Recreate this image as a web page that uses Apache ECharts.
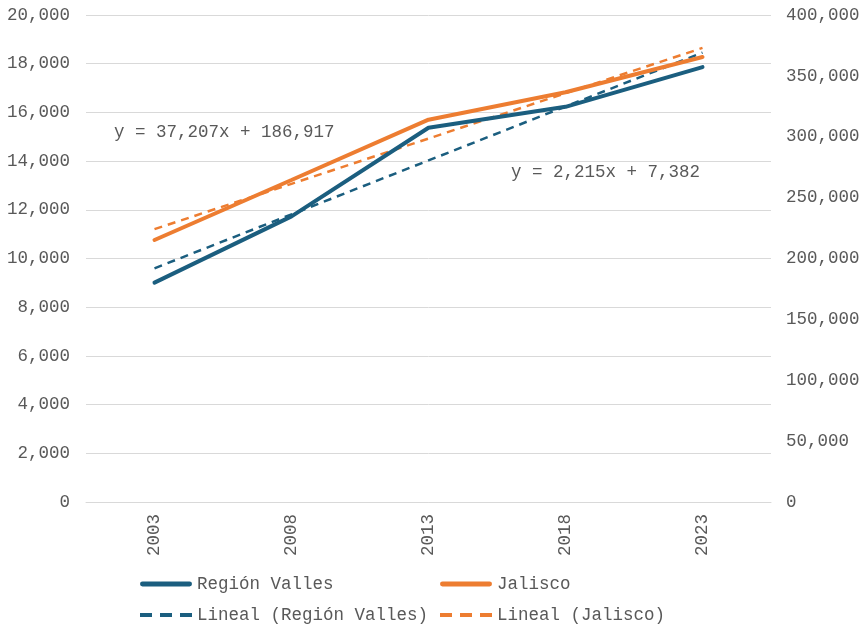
<!DOCTYPE html>
<html><head><meta charset="utf-8">
<script src="https://cdn.jsdelivr.net/npm/echarts@6/dist/echarts.min.js"></script>
<style>html,body{margin:0;padding:0;background:#fff}#c{width:864px;height:629px}</style>
</head><body><div id="c"></div>
<script>
const categories = ['2003', '2008', '2013', '2018', '2023'];
const vallesValues = [9010, 11730, 15370, 16230, 17860];
const jaliscoValues = [215200, 264500, 314000, 336500, 365500];
// Trend line coefficients as shown in chart equations: [slope, intercept]
const vallesTrendCoef = [2215, 7382];
const jaliscoTrendCoef = [37207, 186917];
const vallesEquation = 'y = 2,215x + 7,382';
const jaliscoEquation = 'y = 37,207x + 186,917';

const trend = (c) => categories.map((_, i) => c[0] * (i + 1) + c[1]);
const FONT = 'Liberation Mono';
const FS = 17.5;
const TXT = '#595959';
const BLUE = '#1B5E7F';
const ORANGE = '#ED7D31';
const fmt = v => v.toLocaleString('en-US');
const SOLID_ICON = 'path://M2,0 H50 A2.5,2.5 0 0 1 50,5 H2 A2.5,2.5 0 0 1 2,0 Z';
const DASH_ICON = 'path://M0,0 h12 v4 h-12 z M20,0 h12 v4 h-12 z M40,0 h12 v4 h-12 z';

const legendText = { fontFamily: FONT, fontSize: FS, color: TXT, lineHeight: 20 };
const mkLegend = (name, icon, left, top) => ({
  left, top, padding: 0, orient: 'horizontal', itemWidth: 52, itemHeight: 5,
  textStyle: legendText, data: [{ name, icon }]
});
const chart = echarts.init(document.getElementById('c'));
chart.setOption({
  animation: false,
  textStyle: { fontFamily: FONT, color: TXT },
  grid: { left: 86, right: 93, top: 15, bottom: 127 },
  xAxis: {
    type: 'category', data: categories, boundaryGap: true,
    axisLine: { lineStyle: { color: '#D9D9D9', width: 1 } },
    axisTick: { show: false },
    axisLabel: { rotate: 90, fontFamily: FONT, fontSize: FS, color: TXT, margin: 12 }
  },
  yAxis: [
    { type: 'value', min: 0, max: 20000, interval: 2000,
      axisLine: { show: false }, axisTick: { show: false },
      splitLine: { lineStyle: { color: '#D9D9D9', width: 1 } },
      axisLabel: { fontFamily: FONT, fontSize: FS, color: TXT, margin: 16, formatter: fmt } },
    { type: 'value', min: 0, max: 400000, interval: 50000,
      axisLine: { show: false }, axisTick: { show: false },
      splitLine: { show: false },
      axisLabel: { fontFamily: FONT, fontSize: FS, color: TXT, margin: 15, formatter: fmt } }
  ],
  legend: [
    mkLegend('Región Valles', SOLID_ICON, 140, 574),
    mkLegend('Lineal (Región Valles)', DASH_ICON, 140, 605),
    mkLegend('Jalisco', SOLID_ICON, 440, 574),
    mkLegend('Lineal (Jalisco)', DASH_ICON, 440, 605)
  ],
  series: [
    { name: 'Lineal (Región Valles)', type: 'line', data: trend(vallesTrendCoef), yAxisIndex: 0,
      symbol: 'none', color: BLUE, lineStyle: { color: BLUE, width: 2.5, type: [8, 6] }, z: 2 },
    { name: 'Lineal (Jalisco)', type: 'line', data: trend(jaliscoTrendCoef), yAxisIndex: 1,
      symbol: 'none', color: ORANGE, lineStyle: { color: ORANGE, width: 2.5, type: [8, 6] }, z: 2 },
    { name: 'Región Valles', type: 'line', data: vallesValues, yAxisIndex: 0,
      symbol: 'none', color: BLUE, lineStyle: { color: BLUE, width: 4, cap: 'round' }, z: 3 },
    { name: 'Jalisco', type: 'line', data: jaliscoValues, yAxisIndex: 1,
      symbol: 'none', color: ORANGE, lineStyle: { color: ORANGE, width: 4, cap: 'round' }, z: 3 }
  ],
  graphic: [
    { type: 'text', left: 114, top: 123, style: { text: jaliscoEquation, fontFamily: FONT, fontSize: FS, fill: TXT } },
    { type: 'text', left: 511, top: 163, style: { text: vallesEquation, fontFamily: FONT, fontSize: FS, fill: TXT } }
  ]
});
</script></body></html>
